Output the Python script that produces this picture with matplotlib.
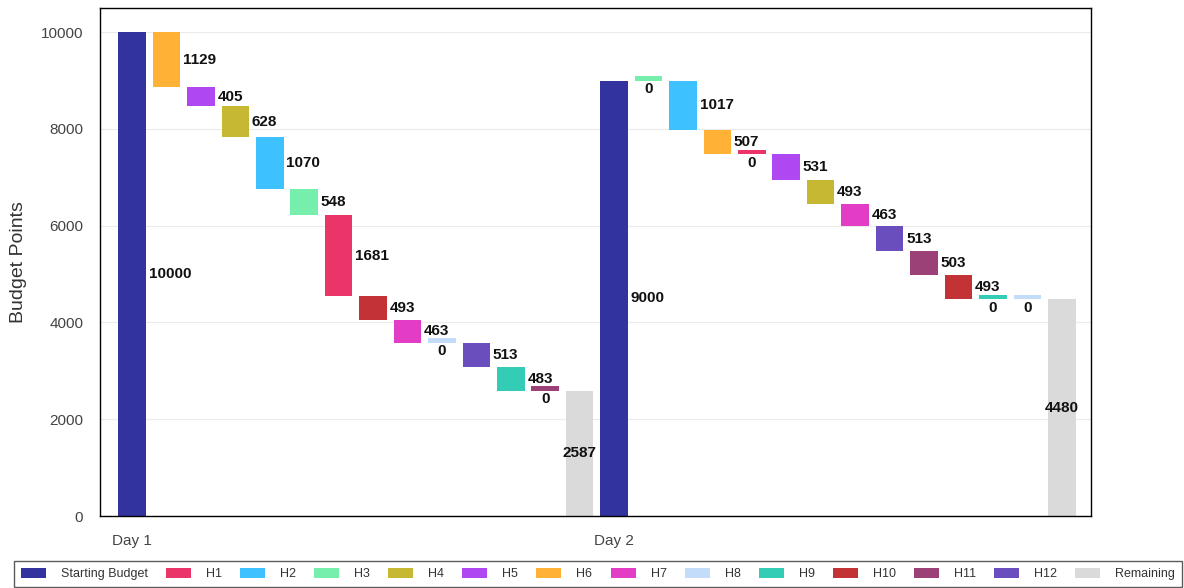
import matplotlib
matplotlib.use("Agg")
import matplotlib.pyplot as plt
from matplotlib.patches import Patch

plt.rcParams['font.family'] = ['Liberation Sans', 'DejaVu Sans']

# Budget data per day
days = ["Day 1", "Day 2"]
start_budget = [10000, 9000]

day1_items = ["H6", "H5", "H4", "H2", "H3", "H1", "H10", "H7", "H8", "H12", "H9", "H11"]
day1_costs = [1129, 405, 628, 1070, 548, 1681, 493, 463, 0, 513, 483, 0]

day2_items = ["H3", "H2", "H6", "H1", "H5", "H4", "H7", "H12", "H11", "H10", "H9", "H8"]
day2_costs = [0, 1017, 507, 0, 531, 493, 463, 513, 503, 493, 0, 0]

remaining = [2587, 4480]

legend_order = ["Starting Budget", "H1", "H2", "H3", "H4", "H5", "H6", "H7",
                "H8", "H9", "H10", "H11", "H12", "Remaining"]

colors = {
    "Starting Budget": "#3333A0",
    "H1": "#EB3468",
    "H2": "#3EC1FF",
    "H3": "#77EFAC",
    "H4": "#C6B833",
    "H5": "#B048F2",
    "H6": "#FFB235",
    "H7": "#E33DC6",
    "H8": "#C2DCF9",
    "H9": "#33CCB4",
    "H10": "#C33234",
    "H11": "#9C4078",
    "H12": "#6A4EBE",
    "Remaining": "#DADADA",
}

ZERO_H = 90  # visible sliver for zero-cost steps
W = 0.8

fig = plt.figure(figsize=(11.84, 5.88), dpi=100)
ax = fig.add_axes([100 / 1184, 72 / 588, 991 / 1184, 508 / 588])

lbl_kw = dict(fontsize=11, fontweight='bold', color='#111111')

pos = 0
tick_pos = []
for sb, items, costs, rem in zip(start_budget,
                                 [day1_items, day2_items],
                                 [day1_costs, day2_costs],
                                 remaining):
    tick_pos.append(pos)
    ax.bar(pos, sb, width=W, color=colors["Starting Budget"], zorder=2)
    ax.annotate(f"{sb}", (pos + W / 2, sb / 2), xytext=(2, 0),
                textcoords='offset points', ha='left', va='center', **lbl_kw)
    level = sb
    pos += 1
    for name, c in zip(items, costs):
        if c == 0:
            ax.bar(pos, ZERO_H, bottom=level, width=W, color=colors[name], zorder=2)
            ax.annotate("0", (pos, level), xytext=(0, -1),
                        textcoords='offset points', ha='center', va='top', **lbl_kw)
        else:
            ax.bar(pos, c, bottom=level - c, width=W, color=colors[name], zorder=2)
            ax.annotate(f"{c}", (pos + W / 2, level - c / 2), xytext=(2, 0),
                        textcoords='offset points', ha='left', va='center', **lbl_kw)
            level -= c
        pos += 1
    ax.bar(pos, rem, width=W, color=colors["Remaining"], zorder=2)
    ax.annotate(f"{rem}", (pos, rem / 2), ha='center', va='center', **lbl_kw)
    pos += 1

ax.set_xlim(-0.93, pos - 0.15)
ax.set_ylim(0, 10500)
ax.set_yticks([0, 2000, 4000, 6000, 8000, 10000])
ax.set_xticks(tick_pos)
ax.set_xticklabels(days)
ax.tick_params(axis='both', length=0, labelsize=11, colors='#444444')
ax.tick_params(axis='x', pad=13)
ax.tick_params(axis='y', pad=12)
ax.set_ylabel("Budget Points", fontsize=14, color='#333333', labelpad=10)
ax.grid(axis='y', color='#EBEBEB', linewidth=0.8, zorder=0)
ax.set_axisbelow(True)
for s in ax.spines.values():
    s.set_color('black')
    s.set_linewidth(1)

handles = [Patch(facecolor=colors[n], edgecolor='none', label=n) for n in legend_order]
leg = fig.legend(handles=handles, loc='lower left', ncol=len(handles),
                 bbox_to_anchor=(14 / 1184, 1 / 588, 1168 / 1184, 24 / 588),
                 mode='expand', frameon=True, fancybox=False, fontsize=9,
                 handlelength=2.0, handleheight=0.9, borderpad=0.55,
                 columnspacing=1.0, handletextpad=1.2, borderaxespad=0)
leg.get_frame().set_edgecolor('#333333')
leg.get_frame().set_linewidth(1)
for t in leg.get_texts():
    t.set_color('#333333')

fig.savefig("out.png", dpi=100)
